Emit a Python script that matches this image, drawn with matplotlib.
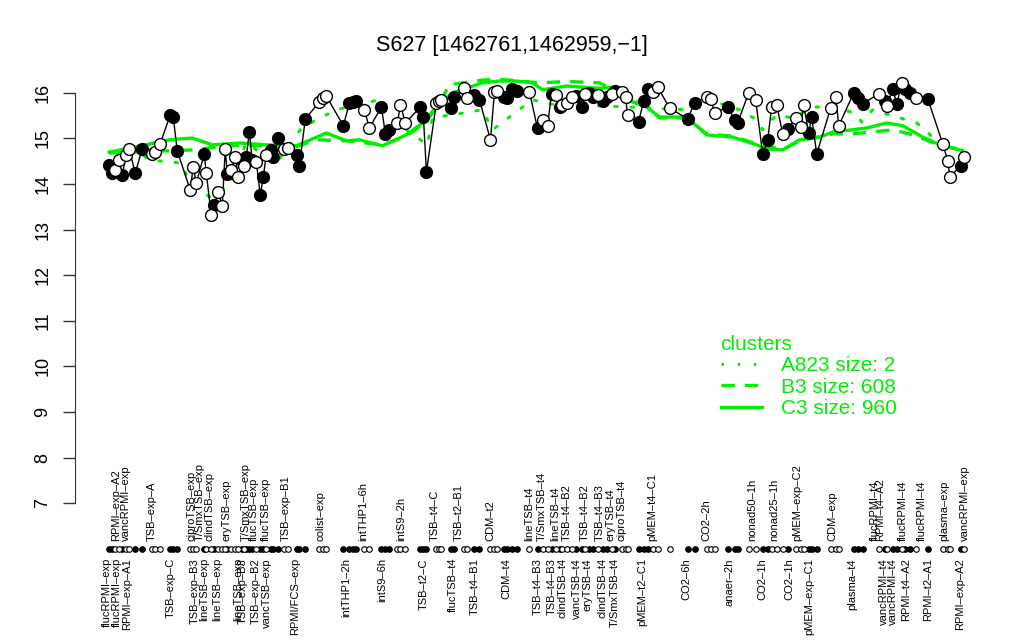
import matplotlib
matplotlib.use("Agg")
import matplotlib.pyplot as plt
import matplotlib.transforms as mtransforms
from matplotlib.lines import Line2D
import numpy as np

plt.rcParams['font.family'] = ['Liberation Sans', 'DejaVu Sans']

title = "S627 [1462761,1462959,\u22121]"

# sample positions (ordering axis units) and expression values
pos = [10, 13, 16, 20, 23, 27, 30, 36, 43, 53, 56, 61, 71, 74, 78, 91, 94, 97,
       105, 107, 112, 115, 119, 123, 126, 128, 132, 136, 139, 143, 145, 147, 150,
       153, 157, 161, 164, 167, 172, 174, 179, 185, 189, 198, 200, 206, 220, 224,
       227, 244, 250, 254, 257, 265, 270, 282, 286, 290, 298, 301, 306, 321, 324,
       327, 337, 340, 342, 352, 355, 365, 368, 375, 380, 391, 395, 398, 405, 408,
       413, 418, 430, 438, 443, 448, 452, 456, 460, 462, 467, 472, 476, 482, 485,
       489, 493, 498, 503, 507, 512, 515, 522, 526, 528, 539, 544, 548, 553, 558,
       570, 588, 595, 607, 611, 615, 628, 635, 638, 649, 656, 663, 668, 672, 677,
       683, 688, 696, 701, 704, 709, 712, 717, 731, 736, 739, 754, 758, 763, 779,
       785, 787, 793, 797, 802, 805, 810, 816, 828, 843, 848, 850, 861, 864]
values = [14.42, 14.24, 14.31, 14.53, 14.20, 14.64, 14.77, 14.24, 14.77, 14.66,
          14.70, 14.88, 15.52, 15.47, 14.73, 13.87, 14.38, 14.02, 14.66, 14.24,
          13.32, 13.54, 13.83, 13.52, 14.77, 14.22, 14.31, 14.60, 14.16, 14.53,
          14.40, 14.60, 15.14, 14.53, 14.49, 13.76, 14.16, 14.64, 14.75, 14.60,
          15.01, 14.77, 14.79, 14.64, 14.40, 15.43, 15.80, 15.89, 15.93, 15.28,
          15.78, 15.80, 15.82, 15.63, 15.23, 15.69, 15.10, 15.19, 15.34, 15.74,
          15.34, 15.69, 15.47, 14.27, 15.78, 15.82, 15.85, 15.67, 15.91, 16.10,
          15.89, 15.96, 15.85, 14.97, 16.02, 16.04, 15.91, 15.89, 16.08, 16.05,
          16.02, 15.22, 15.41, 15.28, 15.98, 15.96, 15.69, 15.74, 15.78, 15.91,
          15.93, 15.69, 15.98, 16.00, 15.91, 15.96, 15.82, 15.91, 15.98, 16.05,
          16.02, 15.91, 15.52, 15.36, 15.82, 16.08, 16.02, 16.13, 15.67, 15.43,
          15.78, 15.91, 15.87, 15.56, 15.69, 15.41, 15.34, 16.00, 15.85, 14.66,
          14.97, 15.69, 15.74, 15.10, 15.21, 15.45, 15.25, 15.74, 15.12, 15.47,
          14.66, 15.67, 15.91, 15.28, 16.00, 15.89, 15.76, 15.98, 15.82, 15.71,
          16.08, 15.76, 16.22, 16.08, 16.00, 15.89, 15.87, 14.88, 14.51, 14.16,
          14.40, 14.60]
filled = "FFOOFOOFFOOOFFFOOOFOOFOOOFOOOFOFFFOFFOFFFOOFFFOOOFFFFOOFFFOOOFFFOOOFFOOFFOOOFFFFOFOOFOFOOOFFOFFOFFOFOOOFFFOOOFFOOOFFFOOFFOOOFOOOFFFOOOFFFOFOFFOFFOFOOOFO"

# cluster profiles (read at knots along the ordering axis)
c3_pos = [10, 33, 70, 93, 113, 140, 167, 197, 227, 247, 260, 283, 307, 323, 337,
          353, 383, 400, 417, 433, 443, 467, 500, 513, 527, 547, 560, 587, 607,
          633, 657, 667, 683, 700, 720, 733, 767, 787, 803, 823, 840, 863]
c3_val = [14.70, 14.80, 14.97, 15.01, 14.86, 14.90, 14.86, 14.84, 15.12, 14.95,
          14.97, 14.84, 15.08, 15.34, 15.69, 16.00, 16.22, 16.26, 16.26, 16.22,
          16.07, 16.15, 16.10, 16.12, 15.85, 15.69, 15.47, 15.47, 15.08, 15.03,
          14.86, 14.77, 14.75, 14.97, 15.03, 15.14, 15.23, 15.34, 15.28, 15.03,
          14.86, 14.73]
b3_pos = [10, 93, 113, 140, 197, 217, 247, 283, 307, 323, 337, 350, 383, 400,
          440, 467, 500, 527, 547, 560, 587, 607, 633, 657, 683, 700, 733, 753,
          793, 813, 840, 863]
b3_val = [14.68, 14.75, 14.80, 14.85, 14.82, 14.97, 14.95, 14.86, 15.05, 15.30,
          15.65, 16.18, 16.28, 16.30, 16.22, 16.25, 16.22, 15.90, 15.70, 15.45,
          15.45, 15.10, 15.05, 14.88, 14.75, 14.95, 15.10, 15.10, 15.19, 15.08,
          14.85, 14.75]
a823_pos = [10, 28, 50, 82, 87, 110, 130, 147, 177, 203, 237, 280, 293, 328, 333,
            383, 393, 433, 453, 530, 587, 600, 640, 657, 663, 677, 693, 713, 733,
            755, 762, 773, 817, 833, 853, 864]
a823_val = [14.45, 14.90, 14.53, 14.46, 14.20, 13.72, 13.96, 14.90, 14.46, 15.25,
            15.63, 15.85, 15.41, 14.86, 15.45, 15.63, 15.19, 15.85, 15.75, 15.69,
            15.63, 15.91, 15.63, 15.41, 15.19, 15.52, 15.45, 15.69, 15.69, 15.56,
            15.36, 15.63, 15.34, 15.03, 14.46, 14.55]

top_labels = ["RPMI\u2013exp\u2013A2", "vancRPMI\u2013exp", "TSB\u2013exp\u2013A",
              "ciproTSB\u2013exp", "T/SmxTSB\u2013exp", "clindTSB\u2013exp",
              "eryTSB\u2013exp", "T/SmxTSB\u2013exp", "flucTSB\u2013exp",
              "flucTSB\u2013exp", "TSB\u2013exp\u2013B1", "colist\u2013exp",
              "intTHP1\u20136h", "intS9\u20132h", "TSB\u2013t4\u2013C",
              "TSB\u2013t2\u2013B1", "CDM\u2013t2", "lineTSB\u2013t4",
              "T/SmxTSB\u2013t4", "lineTSB\u2013t4", "TSB\u2013t4\u2013B2",
              "TSB\u2013t4\u2013B2", "TSB\u2013t4\u2013B3", "eryTSB\u2013t4",
              "ciproTSB\u2013t4", "pMEM\u2013t4\u2013C1", "CO2\u20132h",
              "nonad50\u20131h", "nonad25\u20131h", "pMEM\u2013exp\u2013C2",
              "CDM\u2013exp", "flucRPMI\u2013t4", "RPMI\u2013t4\u2013A2",
              "flucRPMI\u2013t4", "flucRPMI\u2013t4", "plasma\u2013exp",
              "vancRPMI\u2013exp"]
top_pos = [17, 27, 53, 92, 100, 110, 127, 146, 155, 167, 186, 221, 264, 302, 335,
           359, 391, 430, 442, 456, 467, 485, 500, 511, 522, 553, 607, 653, 675,
           698, 733, 775, 780, 803, 822, 844, 865]
bottom_labels = ["flucRPMI\u2013exp", "flucRPMI\u2013exp", "RPMI\u2013exp\u2013A1",
                 "TSB\u2013exp\u2013C", "TSB\u2013exp\u2013B3", "lineTSB\u2013exp",
                 "lineTSB\u2013exp", "lineTSB\u2013exp", "TSB\u2013exp\u2013B3",
                 "TSB\u2013exp\u2013B2", "vancTSB\u2013exp", "RPMI/FCS\u2013exp",
                 "intTHP1\u20132h", "intS9\u20136h", "TSB\u2013t2\u2013C",
                 "flucTSB\u2013t4", "TSB\u2013t4\u2013B1", "CDM\u2013t4",
                 "TSB\u2013t4\u2013B3", "TSB\u2013t4\u2013B3", "clindTSB\u2013t4",
                 "vancTSB\u2013t4", "eryTSB\u2013t4", "clindTSB\u2013t4",
                 "T/SmxTSB\u2013t4", "pMEM\u2013t2\u2013C1", "CO2\u20136h",
                 "anaer\u20132h", "CO2\u20131h", "CO2\u20131h", "pMEM\u2013exp\u2013C1",
                 "plasma\u2013t4", "vancRPMI\u2013t4", "vancRPMI\u2013t4",
                 "RPMI\u2013t4\u2013A2", "RPMI\u2013t2\u2013A1", "RPMI\u2013exp\u2013A2"]
bottom_pos = [8, 18, 28, 72, 96, 105, 118, 139, 143, 156, 168, 196, 247, 283, 324,
              353, 375, 407, 438, 452, 463, 477, 488, 503, 515, 543, 587, 630, 663,
              690, 710, 753, 784, 793, 806, 828, 860]

legend_title = "clusters"
legend_labels = ["A823 size: 2", "B3 size: 608", "C3 size: 960"]

GREEN = "#00ee00"

fig = plt.figure(figsize=(10.24, 6.40), dpi=100)
ax = fig.add_axes([75 / 1024, 1 - 520 / 640, 923 / 1024, 454 / 640])

x = np.array(pos, dtype=float)
y = np.array(values)
is_f = np.array([c == "F" for c in filled])

ax.plot(a823_pos, a823_val, color=GREEN, lw=2.2, linestyle=(0, (0.8, 4.5)),
        solid_capstyle='round', dash_capstyle='round', zorder=2)
ax.plot(b3_pos, b3_val, color=GREEN, lw=2.4, linestyle=(0, (4, 3)), zorder=2)
ax.plot(c3_pos, c3_val, color=GREEN, lw=2.4, linestyle='-', zorder=2)

ax.plot(x, y, color='black', lw=1.0, zorder=3)
ax.plot(x[is_f], y[is_f], 'o', ms=8.5, mfc='black', mec='black', mew=1.0, zorder=4)
ax.plot(x[~is_f], y[~is_f], 'o', ms=8.5, mfc='white', mec='black', mew=1.0, zorder=4)

xr = x.max() - x.min()
ax.set_xlim(x.min() - 0.04 * xr, x.max() + 0.04 * xr)
ax.set_ylim(6.63, 16.59)

for s in ['top', 'right', 'bottom']:
    ax.spines[s].set_visible(False)
ax.spines['left'].set_bounds(7, 16)
ax.spines['left'].set_color('#333333')
ax.set_xticks([])
ax.set_yticks(range(7, 17))
ax.tick_params(axis='y', length=9, width=1, labelsize=13, pad=8, colors='#333333')
for lab in ax.get_yticklabels():
    lab.set_rotation(90)
    lab.set_va('center')
    lab.set_color('black')

trans = mtransforms.blended_transform_factory(ax.transData, ax.transAxes)
yd = (520 - 549) / 454
ax.scatter(x[is_f], np.full(is_f.sum(), yd), s=16, c='black', edgecolors='black',
           linewidths=0.8, transform=trans, clip_on=False, zorder=5)
ax.scatter(x[~is_f], np.full((~is_f).sum(), yd), s=16, c='white', edgecolors='black',
           linewidths=0.8, transform=trans, clip_on=False, zorder=5)

for t, p in zip(top_labels, top_pos):
    ax.text(p, (520 - 541) / 454, t, rotation=90, ha='center', va='bottom',
            fontsize=8, transform=trans, clip_on=False)
for t, p in zip(bottom_labels, bottom_pos):
    ax.text(p, (520 - 558) / 454, t, rotation=90, ha='center', va='top',
            fontsize=8, transform=trans, clip_on=False)

fig.text(0.5, 1 - 46 / 640, title, ha='center', va='center', fontsize=15.5)

handles = [Line2D([], [], color=GREEN, lw=2.2, linestyle=(0, (0.8, 4.5))),
           Line2D([], [], color=GREEN, lw=2.4, linestyle=(0, (4, 3))),
           Line2D([], [], color=GREEN, lw=2.4, linestyle='-')]
leg = ax.legend(handles, legend_labels, title=legend_title, frameon=False,
                loc='upper left', bbox_to_anchor=(706 / 1024, 1 - 320 / 640),
                bbox_transform=fig.transFigure, fontsize=15, title_fontsize=15,
                handlelength=2.0, handletextpad=0.9, labelspacing=0.12,
                alignment='left', borderpad=0.2)
for txt in leg.get_texts():
    txt.set_color(GREEN)
leg.get_title().set_color(GREEN)

fig.savefig("out.png", dpi=100)
